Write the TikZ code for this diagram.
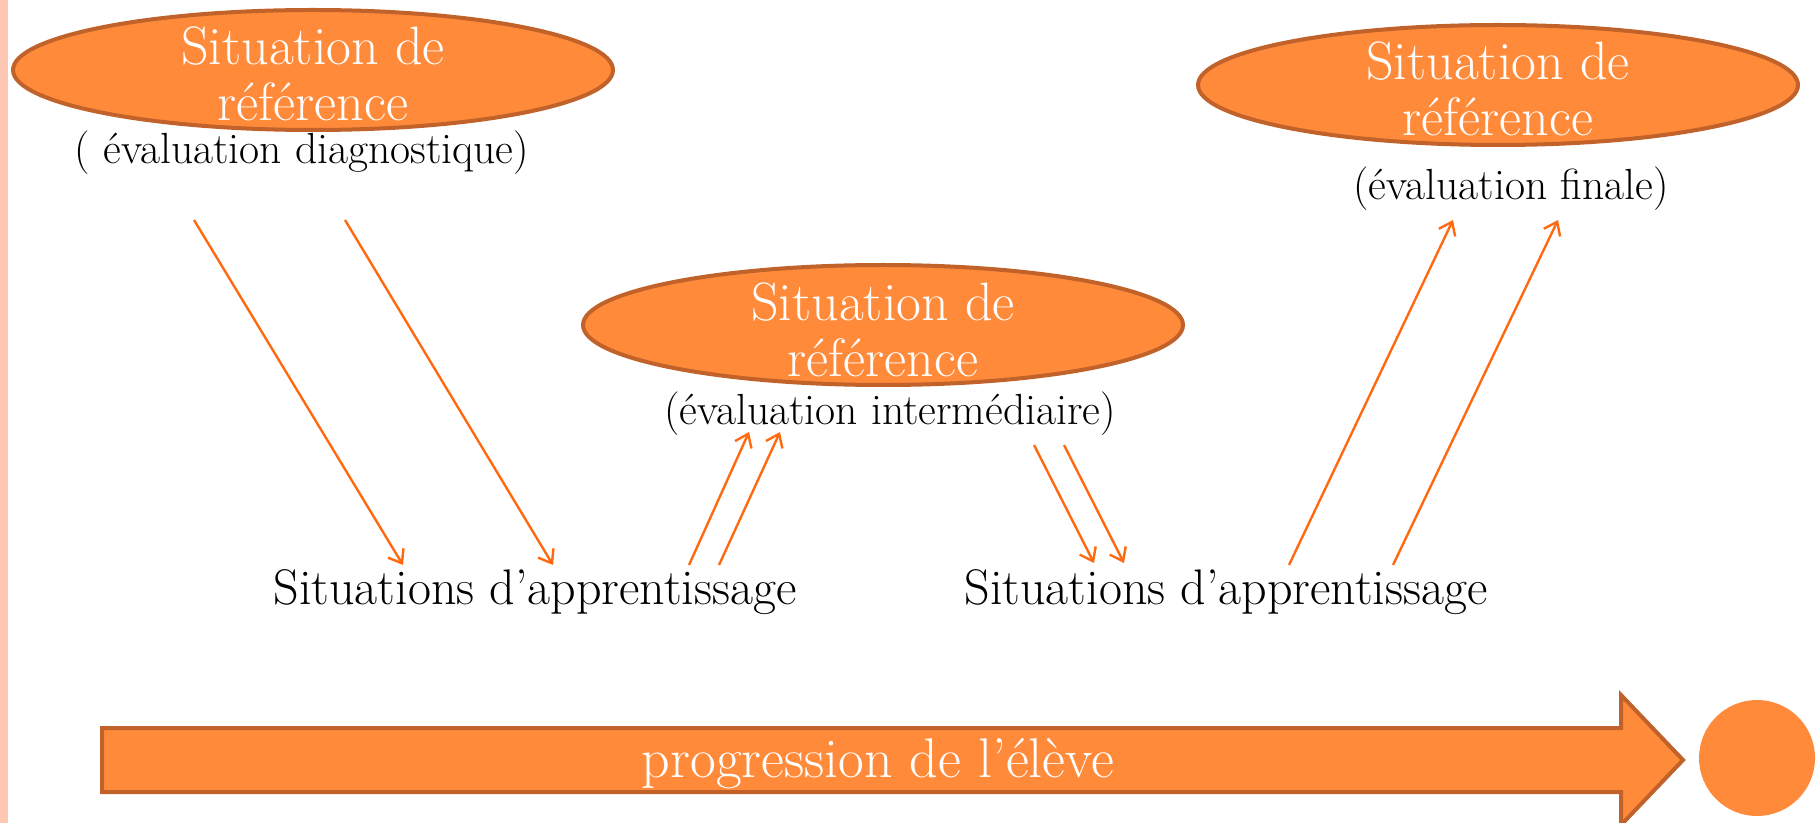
\documentclass[tikz,border=0pt]{standalone}
\usetikzlibrary{arrows.meta,shapes.geometric}
\definecolor{orfill}{HTML}{FF8A3A}
\definecolor{orline}{HTML}{C0622A}
\definecolor{arr}{HTML}{FF6A10}
\definecolor{strip}{HTML}{FFC8B4}
\begin{document}
\begin{tikzpicture}[x=0.5pt,y=-0.5pt,
 refell/.style={ellipse, fill=orfill, draw=orline, line width=2pt, minimum width=300pt, minimum height=60pt, inner sep=0pt},
 reftxt/.style={text=white, align=center, inner sep=0pt, font=\fontsize{27}{28}\selectfont},
 evaltxt/.style={inner sep=0pt, font=\fontsize{21.8}{25}\selectfont},
 sittxt/.style={inner sep=0pt, font=\fontsize{25}{29}\selectfont},
 flow/.style={draw=arr, line width=1.2pt, -{Straight Barb[length=6pt,width=9pt]}}]
\useasboundingbox (0,0) rectangle (1819,823);
\clip (0,0) rectangle (1819,823);
\fill[strip] (0,0) rectangle (8,823);
% ellipses
\node[refell] (e1) at (313,70) {};
\node[reftxt] (t1) at (313,74) {Situation de\\référence};
\node[evaltxt] (v1) at (302,153) {( évaluation diagnostique)};
\node[refell] (e2) at (883,325) {};
\node[reftxt] (t2) at (883,330) {Situation de\\référence};
\node[evaltxt] (v2) at (890,414) {(évaluation intermédiaire)};
\node[refell] (e3) at (1498,85) {};
\node[reftxt] (t3) at (1498,89) {Situation de\\référence};
\node[evaltxt] (v3) at (1511,189) {(évaluation finale)};
% learning situations
\node[sittxt] (s1) at (535,592) {Situations d’apprentissage};
\node[sittxt] (s2) at (1226,592) {Situations d’apprentissage};
% arrow end points
\coordinate (a1s) at (194,220); \coordinate (a1e) at (403,565);
\coordinate (a2s) at (345,220); \coordinate (a2e) at (553,565);
\coordinate (a3s) at (689,565); \coordinate (a3e) at (749,432);
\coordinate (a4s) at (719,565); \coordinate (a4e) at (780,432);
\coordinate (a5s) at (1034,445); \coordinate (a5e) at (1094,563);
\coordinate (a6s) at (1064,445); \coordinate (a6e) at (1124,563);
\coordinate (a7s) at (1289,565); \coordinate (a7e) at (1453,220);
\coordinate (a8s) at (1393,565); \coordinate (a8e) at (1558,220);
\draw[flow] (a1s) -- (a1e);
\draw[flow] (a2s) -- (a2e);
\draw[flow] (a3s) -- (a3e);
\draw[flow] (a4s) -- (a4e);
\draw[flow] (a5s) -- (a5e);
\draw[flow] (a6s) -- (a6e);
\draw[flow] (a7s) -- (a7e);
\draw[flow] (a8s) -- (a8e);
% progression arrow
\draw[fill=orfill, draw=orline, line width=2pt, line join=miter]
  (102,728) -- (1621,728) -- (1621,695) -- (1683,760) -- (1621,825) -- (1621,792) -- (102,792) -- cycle;
\node[text=white, inner sep=0pt, font=\fontsize{28}{32}\selectfont] (prog) at (878,764) {progression de l’élève};
\node[circle, fill=orfill, minimum size=58pt, inner sep=0pt] (dot) at (1757,758) {};
\end{tikzpicture}
\end{document}
